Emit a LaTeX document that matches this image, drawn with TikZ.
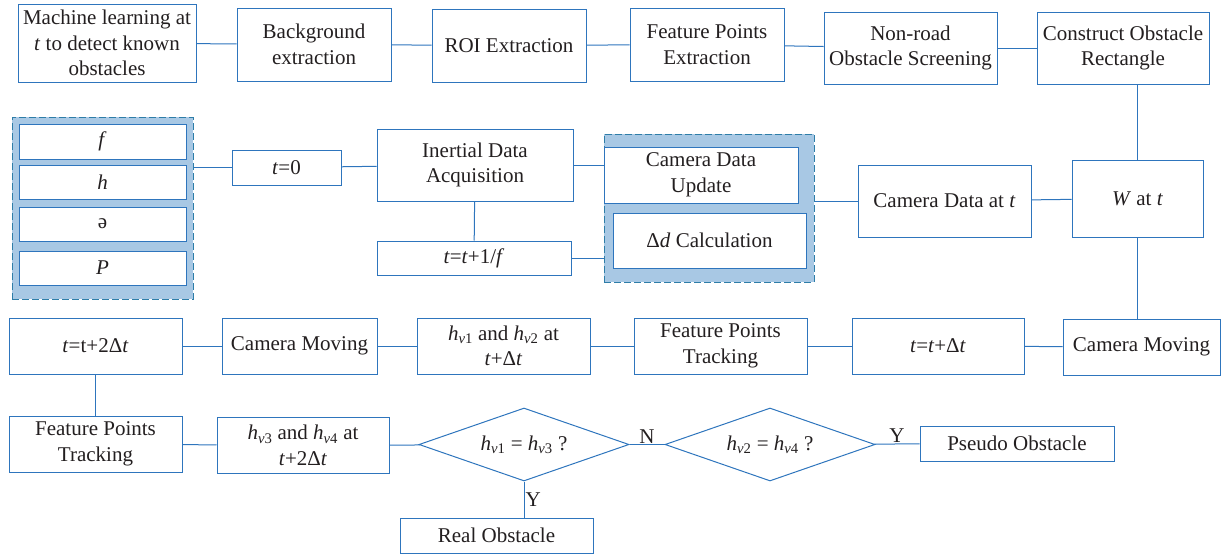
\documentclass[tikz,border=0pt]{standalone}
\usepackage{fontspec}
\setmainfont{Liberation Serif}
\usepackage{xcolor}
\usetikzlibrary{shapes.geometric}
\definecolor{boxblue}{RGB}{46,117,189}
\definecolor{grpfill}{RGB}{168,200,228}
\definecolor{grpline}{RGB}{46,125,168}
\definecolor{txtgray}{RGB}{35,31,32}

\begin{document}
\begin{tikzpicture}[x=1pt, y=-1pt, font=\fontsize{21}{25.5}\selectfont,
  every edge/.style={draw=boxblue, line width=1pt}]
\tikzstyle{box}=[draw=boxblue, line width=1pt, fill=white, text=txtgray, align=center, inner sep=0pt]
\tikzstyle{group}=[draw=grpline, dash pattern=on 7pt off 3pt, fill=grpfill, line width=1pt, inner sep=0pt]
\tikzstyle{decision}=[box, diamond, aspect=2.9, minimum width=210pt, minimum height=73pt]
\tikzstyle{lbl}=[text=txtgray, inner sep=1pt]
\useasboundingbox (0,0) rectangle (1221,554);

\node[box, minimum width=178pt, minimum height=78pt] (ml) at (107,43) {Machine learning at\\ \textit{t} to detect known\\ obstacles};
\node[box, minimum width=154pt, minimum height=73pt] (bg) at (314,44.5) {Background\\ extraction};
\node[box, minimum width=154pt, minimum height=73pt] (roi) at (509,45.5) {ROI Extraction};
\node[box, minimum width=154pt, minimum height=73pt] (fpe) at (707,44.5) {Feature Points\\ Extraction};
\node[box, minimum width=173pt, minimum height=72pt] (nonroad) at (910.5,48) {Non-road\\ Obstacle Screening};
\node[box, minimum width=172pt, minimum height=72pt] (rect) at (1123,48) {Construct Obstacle\\ Rectangle};

\node[group, minimum width=181pt, minimum height=182pt] (grp1) at (102.5,208) {};
\node[box, minimum width=167pt, minimum height=35pt] (f) at (102.5,141.5) {\textit{f}};
\node[box, minimum width=167pt, minimum height=34pt] (h) at (102.5,182) {\textit{h}};
\node[box, minimum width=167pt, minimum height=34pt] (d) at (102.5,224) {ə};
\node[box, minimum width=167pt, minimum height=34pt] (p) at (102.5,268) {\textit{P}};

\node[box, minimum width=109pt, minimum height=35pt] (t0) at (286.5,167.5) {\textit{t}=0};
\node[box, minimum width=196pt, minimum height=72pt] (inertial) at (475,165) {Inertial Data\\ Acquisition};
\node[box, minimum width=194pt, minimum height=34pt] (tinc) at (474,258) {\textit{t}=\textit{t}+1/\textit{f}};

\node[group, minimum width=210pt, minimum height=148pt] (grp2) at (709,208) {};
\node[box, minimum width=194pt, minimum height=56pt] (camupd) at (701,175) {Camera Data\\ Update};
\node[box, minimum width=193pt, minimum height=55pt] (deltad) at (709.5,240.5) {Δ\textit{d} Calculation};

\node[box, minimum width=173pt, minimum height=72pt] (camt) at (944.5,201) {Camera Data at \textit{t}};
\node[box, minimum width=131pt, minimum height=77pt] (W) at (1137.5,198.5) {\textit{W} at \textit{t}};

\node[box, minimum width=173pt, minimum height=56pt] (tdd) at (95.5,346) {\textit{t}=t+2Δ\textit{t}};
\node[box, minimum width=155pt, minimum height=56pt] (cm1) at (299.5,346) {Camera Moving};
\node[box, minimum width=173pt, minimum height=56pt] (hv12) at (503.5,346) {\textit{h}\textsubscript{\textit{v}1} and \textit{h}\textsubscript{\textit{v}2} at\\ \textit{t}+Δ\textit{t}};
\node[box, minimum width=173pt, minimum height=56pt] (fpt1) at (720.5,346) {Feature Points\\ Tracking};
\node[box, minimum width=172pt, minimum height=56pt] (tdt) at (938,346) {\textit{t}=\textit{t}+Δ\textit{t}};
\node[box, minimum width=157pt, minimum height=56pt] (cm2) at (1141.5,347) {Camera Moving};

\node[box, minimum width=173pt, minimum height=56pt] (fpt2) at (95.5,444) {Feature Points\\ Tracking};
\node[box, minimum width=172pt, minimum height=56pt] (hv34) at (303,445.5) {\textit{h}\textsubscript{\textit{v}3} and \textit{h}\textsubscript{\textit{v}4} at\\ \textit{t}+2Δ\textit{t}};
\node[decision] (d1) at (524,444.5) {\textit{h}\textsubscript{\textit{v}1} = \textit{h}\textsubscript{\textit{v}3} ?};
\node[decision] (d2) at (770,444.5) {\textit{h}\textsubscript{\textit{v}2} = \textit{h}\textsubscript{\textit{v}4} ?};
\node[box, minimum width=194pt, minimum height=35pt] (pseudo) at (1017,443.5) {Pseudo Obstacle};
\node[box, minimum width=193pt, minimum height=35pt] (real) at (496.5,535.5) {Real Obstacle};

\path
(ml) edge (bg)
(bg) edge (roi)
(roi) edge (fpe)
(fpe) edge (nonroad)
(nonroad) edge (rect)
(rect.south -| W) edge (W)
(grp1.east |- t0) edge (t0)
(t0) edge (inertial)
(inertial) edge (inertial -| camupd.west)
(inertial) edge (tinc)
(tinc) edge (tinc -| grp2.west)
(grp2.east |- camt) edge (camt)
(camt) edge (W)
(W) edge (W |- cm2.north)
(cm2) edge (tdt)
(tdt) edge (fpt1)
(fpt1) edge (hv12)
(hv12) edge (cm1)
(cm1) edge (tdd)
(tdd) edge (fpt2)
(fpt2) edge (hv34)
(hv34) edge (d1)
(d1) edge node[lbl, above] {N} (d2)
(d2) edge node[lbl, above] {Y} (pseudo)
(d1) edge node[lbl, right] {Y} (d1 |- real.north);

\end{tikzpicture}
\end{document}
